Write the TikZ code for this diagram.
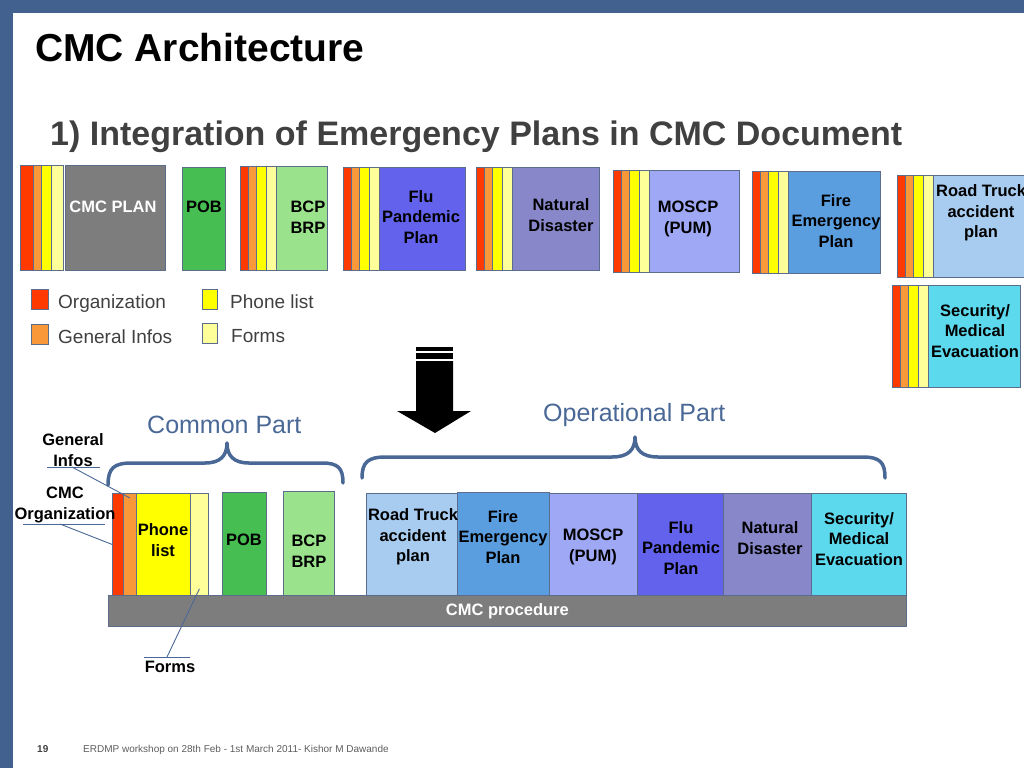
\documentclass[tikz,border=0pt]{standalone}
\usepackage{fontspec}
\setmainfont{Liberation Sans}
\usetikzlibrary{calc}
\definecolor{slideblue}{HTML}{42618F}
\definecolor{edgegray}{HTML}{5C6C8C}
\definecolor{textgray}{HTML}{404040}
\definecolor{partblue}{HTML}{4A6896}
\definecolor{orgred}{HTML}{FF3A00}
\definecolor{infoorange}{HTML}{F99838}
\definecolor{phoneyellow}{HTML}{FFFF00}
\definecolor{formyellow}{HTML}{FFFF99}
\definecolor{cmcgray}{HTML}{7D7D7D}
\definecolor{pobgreen}{HTML}{47BE52}
\definecolor{bcpgreen}{HTML}{9AE38C}
\definecolor{flublue}{HTML}{6262EC}
\definecolor{natpurple}{HTML}{8787C9}
\definecolor{moscpblue}{HTML}{9EA8F4}
\definecolor{fireblue}{HTML}{5B9EE0}
\definecolor{roadblue}{HTML}{A8CCF0}
\definecolor{seccyan}{HTML}{5DD9EE}

\begin{document}
\begin{tikzpicture}[x=1pt, y=-1pt,
  planbox/.style={draw=edgegray, line width=0.8pt, anchor=north west, inner sep=0pt, minimum height=103pt},
  boxtext/.style={font=\fontsize{16.5}{20.5}\selectfont\bfseries, align=center, inner sep=0pt},
  legendbox/.style={draw=edgegray, line width=0.6pt, anchor=north west, inner sep=0pt, minimum width=17pt, minimum height=20pt},
  legendtext/.style={font=\fontsize{19}{23}\selectfont, text=textgray, anchor=base west, inner sep=0pt},
  parttext/.style={font=\fontsize{25}{30}\selectfont, text=partblue, anchor=base west, inner sep=0pt},
  brace/.style={draw=partblue, line width=3.5pt, line cap=round, line join=round},
  leader/.style={draw=partblue, line width=0.9pt}
]
\useasboundingbox (0,0) rectangle (1024,768);
\clip (0,0) rectangle (1024,768);

% slide frame
\fill[slideblue] (0,0) rectangle (1024,13);
\fill[slideblue] (0,0) rectangle (13,768);

\node[anchor=base west, font=\fontsize{39}{44}\selectfont\bfseries, inner sep=0pt] (title) at (35,61) {CMC Architecture};
\node[anchor=base west, font=\fontsize{34}{40}\selectfont\bfseries, text=textgray, inner sep=0pt] (subtitle) at (50,145) {1) Integration of Emergency Plans in CMC Document};

% separate plans
\node[planbox, fill=orgred, minimum width=13pt, minimum height=105pt] (cmc-s1) at (20,165) {};
\node[planbox, fill=infoorange, minimum width=8pt, minimum height=105pt] (cmc-s2) at (33,165) {};
\node[planbox, fill=phoneyellow, minimum width=10pt, minimum height=105pt] (cmc-s3) at (41,165) {};
\node[planbox, fill=formyellow, minimum width=12pt, minimum height=105pt] (cmc-s4) at (51,165) {};
\foreach \g/\x/\y/\h in {bcp/240/166/104, flu/343/167/103, nat/476/167/103, mos/613/170/102,
                        fire/752/171/102, road/897/175/102, sec/892/285/102} {
  \node[planbox, fill=orgred, minimum width=8pt, minimum height=\h pt] (\g-s1) at (\x,\y) {};
  \node[planbox, fill=infoorange, minimum width=8pt, minimum height=\h pt] (\g-s2) at (\x+8,\y) {};
  \node[planbox, fill=phoneyellow, minimum width=10pt, minimum height=\h pt] (\g-s3) at (\x+16,\y) {};
  \node[planbox, fill=formyellow, minimum width=10pt, minimum height=\h pt] (\g-s4) at (\x+26,\y) {};
}
\node[planbox, fill=cmcgray, minimum width=100pt, minimum height=105pt] (cmc) at (65,165) {};
\node[planbox, fill=pobgreen, minimum width=43pt] (pob) at (182,167) {};
\node[planbox, fill=bcpgreen, minimum width=51pt, minimum height=104pt] (bcp) at (276,166) {};
\node[planbox, fill=flublue, minimum width=86pt] (flu) at (379,167) {};
\node[planbox, fill=natpurple, minimum width=87pt] (nat) at (512,167) {};
\node[planbox, fill=moscpblue, minimum width=90pt, minimum height=102pt] (mos) at (649,170) {};
\node[planbox, fill=fireblue, minimum width=92pt, minimum height=102pt] (fire) at (788,171) {};
\node[planbox, fill=roadblue, minimum width=100pt, minimum height=102pt] (road) at (933,175) {};
\node[planbox, fill=seccyan, minimum width=92pt, minimum height=102pt] (sec) at (928,285) {};

\node[boxtext, text=white] (cmc-t) at (113,207) {CMC PLAN};
\node[boxtext] (pob-t) at (204,207) {POB};
\node[boxtext] (bcp-t) at (308,217) {BCP\\BRP};
\node[boxtext] (flu-t) at (421,217) {Flu\\Pandemic\\Plan};
\node[boxtext] (nat-t) at (561,215) {Natural\\Disaster};
\node[boxtext] (mos-t) at (688,219) {MOSCP\\(PUM)};
\node[boxtext] (fire-t) at (836,221) {Fire\\Emergency\\Plan};
\node[boxtext] (road-t) at (981,213) {Road Truck\\accident\\plan};
\node[boxtext] (sec-t) at (975,331) {Security/\\Medical\\Evacuation};

% legend
\node[legendbox, fill=orgred] (leg-org) at (31,289) {};
\node[legendbox, fill=infoorange] (leg-info) at (31,324) {};
\node[legendbox, fill=phoneyellow, minimum width=15pt] (leg-phone) at (202,289) {};
\node[legendbox, fill=formyellow, minimum width=15pt] (leg-form) at (202,323) {};
\node[legendtext] (leg-org-t) at (58,308) {Organization};
\node[legendtext] (leg-info-t) at (58,343) {General Infos};
\node[legendtext] (leg-phone-t) at (230,308) {Phone list};
\node[legendtext] (leg-form-t) at (231,342) {Forms};

% big arrow
\fill (416,347) rectangle (453,351);
\fill (416,353) rectangle (453,359);
\fill (416,361) -- (453,361) -- (453,411) -- (471,411) -- (435,433) -- (397,411) -- (416,411) -- cycle;

% braces
\node[parttext] (common) at (147,433) {Common Part};
\node[parttext] (oper) at (543,421) {Operational Part};
\draw[brace] (108,485) .. controls (108,468) and (114,463) .. (132,463) -- (205,463)
  .. controls (220,463) and (227,456) .. (227,443) .. controls (227,456) and (234,463) .. (249,463)
  -- (322,463) .. controls (338,463) and (343,468) .. (343,483);
\draw[brace] (362,478) .. controls (362,462) and (368,457) .. (386,457) -- (612,457)
  .. controls (628,457) and (635,450) .. (635,437) .. controls (635,450) and (642,457) .. (658,457)
  -- (862,457) .. controls (880,457) and (885,462) .. (885,478);

% integrated document
\node[planbox, fill=orgred, minimum width=11pt, minimum height=102pt] (b-org) at (112,493) {};
\node[planbox, fill=infoorange, minimum width=13pt, minimum height=102pt] (b-info) at (123,493) {};
\node[planbox, fill=phoneyellow, minimum width=54pt, minimum height=102pt] (b-phone) at (136,493) {};
\node[planbox, fill=formyellow, minimum width=18pt, minimum height=102pt] (b-form) at (190,493) {};
\node[planbox, fill=pobgreen, minimum width=44pt] (b-pob) at (222,492) {};
\node[planbox, fill=bcpgreen, minimum width=51pt, minimum height=104pt] (b-bcp) at (283,491) {};
\node[planbox, fill=roadblue, minimum width=91pt, minimum height=102pt] (b-road) at (366,493) {};
\node[planbox, fill=fireblue, minimum width=92pt] (b-fire) at (457,492) {};
\node[planbox, fill=moscpblue, minimum width=88pt, minimum height=102pt] (b-mos) at (549,493) {};
\node[planbox, fill=flublue, minimum width=86pt, minimum height=102pt] (b-flu) at (637,493) {};
\node[planbox, fill=natpurple, minimum width=88pt, minimum height=102pt] (b-nat) at (723,493) {};
\node[planbox, fill=seccyan, minimum width=95pt, minimum height=102pt] (b-sec) at (811,493) {};
\node[planbox, fill=cmcgray, minimum width=798pt, minimum height=31pt,
      font=\fontsize{16.5}{20.5}\selectfont\bfseries, text=white] (proc) at (108,595) {CMC procedure};

\node[boxtext] (b-phone-t) at (163,540) {Phone\\list};
\node[boxtext] (b-pob-t) at (244,540) {POB};
\node[boxtext] (b-bcp-t) at (309,551) {BCP\\BRP};
\node[boxtext] (b-road-t) at (413,537) {Road Truck\\accident\\plan};
\node[boxtext] (b-fire-t) at (503,537) {Fire\\Emergency\\Plan};
\node[boxtext] (b-mos-t) at (593,547) {MOSCP\\(PUM)};
\node[boxtext] (b-flu-t) at (681,548) {Flu\\Pandemic\\Plan};
\node[boxtext] (b-nat-t) at (770,538) {Natural\\Disaster};
\node[boxtext] (b-sec-t) at (859,539) {Security/\\Medical\\Evacuation};

% callouts
\node[boxtext] (gi-lbl) at (73,450) {General\\Infos};
\node[boxtext] (org-lbl) at (65,505) {CMC\\Organization};
\node[boxtext] (forms-lbl) at (170,667) {Forms};
\coordinate (gi-l) at (47,467);
\coordinate (gi-r) at (100,467);
\coordinate (gi-k) at (72,467);
\coordinate (org-l) at (23,524);
\coordinate (org-r) at (105,524);
\coordinate (org-k) at (60,524);
\coordinate (forms-l) at (144,657);
\coordinate (forms-r) at (190,657);
\coordinate (forms-k) at (167,657);
\draw[leader] (gi-l) -- (gi-r);
\draw[leader] (gi-k) -- ([yshift=-5pt]b-info.north);
\draw[leader] (org-l) -- (org-r);
\draw[leader] (org-k) -- (b-org.west);
\draw[leader] (forms-l) -- (forms-r);
\draw[leader] (forms-k) -- ([yshift=7pt]b-form.south);

% footer
\node[anchor=base west, font=\fontsize{10}{12}\selectfont\bfseries, text=textgray, inner sep=0pt] (pageno) at (37,752) {19};
\node[anchor=base west, font=\fontsize{10}{12}\selectfont, text=textgray!85, inner sep=0pt] (footer) at (83,752) {ERDMP workshop on 28th Feb - 1st March 2011- Kishor M Dawande};
\end{tikzpicture}
\end{document}
